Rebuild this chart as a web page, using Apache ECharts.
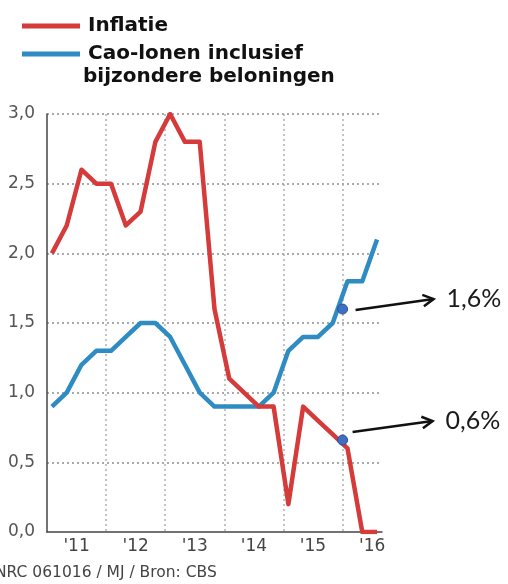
<!DOCTYPE html>
<html>
<head>
<meta charset="utf-8">
<script src="https://cdn.jsdelivr.net/npm/echarts@6/dist/echarts.min.js"></script>
<style>
html,body{margin:0;padding:0;background:#fff;}
#chart{width:508px;height:584px;}
</style>
</head>
<body>
<div id="chart"></div>
<script>
// ---- data ----
const periods = ['2011-02','2011-05','2011-08','2011-11',
                 '2012-02','2012-05','2012-08','2012-11',
                 '2013-02','2013-05','2013-08','2013-11',
                 '2014-02','2014-05','2014-08','2014-11',
                 '2015-02','2015-05','2015-08','2015-11',
                 '2016-02','2016-05','2016-08'];
const inflatie = [2.0, 2.2, 2.6, 2.5, 2.5, 2.2, 2.3, 2.8, 3.0, 2.8, 2.8, 1.6,
                  1.1, 1.0, 0.9, 0.9, 0.2, 0.9, 0.8, 0.7, 0.6, 0.0, 0.0];
const caoLonen = [0.9, 1.0, 1.2, 1.3, 1.3, 1.4, 1.5, 1.5, 1.4, 1.2, 1.0, 0.9,
                  0.9, 0.9, 0.9, 1.0, 1.3, 1.4, 1.4, 1.5, 1.8, 1.8, 2.1];
const yearLabels = ["'11", "'12", "'13", "'14", "'15", "'16"];
const annotationPeriod = ['2016-01', '2016-01'];
const annotationValue = [1.6, 0.66];
const annotationText = ['1,6%', '0,6%'];
const seriesNames = ['Inflatie', 'Cao-lonen inclusief'];
const legendSecondLine = 'bijzondere beloningen';
const sourceText = 'NRC 061016 / MJ / Bron: CBS';

// ---- helpers ----
function toYear(p) {
  const [y, m] = p.split('-').map(Number);
  return y + (m - 1) / 12;
}
const xs = periods.map(toYear);
const redData = xs.map((x, i) => [x, inflatie[i]]);
const blueData = xs.map((x, i) => [x, caoLonen[i]]);
const dotData = annotationPeriod.map((p, i) => [toYear(p), annotationValue[i]]);

const chart = echarts.init(document.getElementById('chart'), null, {renderer: 'canvas'});

const RED = '#d43b3a';
const BLUE = '#2e8cc3';

chart.setOption({
  animation: false,
  backgroundColor: '#ffffff',
  grid: {left: 47, right: 126, top: 114, bottom: 52, containLabel: false, outerBoundsMode: 'none'},
  legend: {
    orient: 'vertical',
    left: 17,
    top: 11,
    itemWidth: 58,
    itemHeight: 5,
    itemGap: 8,
    icon: 'rect',
    data: [seriesNames[0], seriesNames[1]],
    textStyle: {
      fontFamily: 'DejaVu Sans', fontWeight: 'bold', fontSize: 20,
      color: '#111', lineHeight: 20, padding: [0, 0, 0, 3]
    },
    selectedMode: false
  },
  xAxis: [{
    type: 'value',
    min: 2011, max: 2016.667, interval: 1,
    position: 'bottom',
    axisLine: {show: true, onZero: false, lineStyle: {color: '#444', width: 1.5}},
    axisTick: {show: false},
    axisLabel: {show: false},
    splitLine: {show: true, showMinLine: false, showMaxLine: false,
      lineStyle: {color: '#b0b0b0', type: [2, 3], width: 1.5}}
  }, {
    type: 'value',
    min: 2011, max: 2016.667, interval: 0.5,
    position: 'bottom',
    axisLine: {show: false},
    axisTick: {show: false},
    splitLine: {show: false},
    axisLabel: {
      show: true, margin: 6, fontFamily: 'DejaVu Sans', fontSize: 17, color: '#444',
      showMinLabel: true, showMaxLabel: true, hideOverlap: false,
      formatter: function (v) {
        const f = v - Math.floor(v);
        if (Math.abs(f - 0.5) < 0.01) return yearLabels[Math.floor(v) - 2011] || '';
        return '';
      }
    }
  }],
  yAxis: {
    type: 'value',
    min: 0, max: 3, interval: 0.5,
    axisLine: {show: true, lineStyle: {color: '#444', width: 1.5}},
    axisTick: {show: false},
    axisLabel: {
      margin: 12, fontFamily: 'DejaVu Sans', fontSize: 17, color: '#555',
      formatter: v => v.toFixed(1).replace('.', ',')
    },
    splitLine: {show: true, showMinLine: false,
      lineStyle: {color: '#8f8f8f', type: [2, 3], width: 1.5}}
  },
  series: [{
    name: seriesNames[1],
    type: 'line',
    xAxisIndex: 0,
    data: blueData,
    symbol: 'none',
    lineStyle: {color: BLUE, width: 4.5, join: 'round'},
    itemStyle: {color: BLUE},
    z: 2
  }, {
    name: seriesNames[0],
    type: 'line',
    xAxisIndex: 0,
    data: redData,
    symbol: 'none',
    lineStyle: {color: RED, width: 4.5, join: 'round'},
    itemStyle: {color: RED},
    z: 3
  }, {
    name: 'markers',
    type: 'scatter',
    xAxisIndex: 0,
    data: dotData,
    symbolSize: 10,
    itemStyle: {color: '#3f6fc3', borderColor: '#2b4f95', borderWidth: 1, opacity: 1},
    z: 5,
    silent: true
  }]
});

// ---- annotations (arrows + texts) anchored to the data points ----
const arrowStart = [[13, 1], [10, -8]];
const arrowEnd = [[91, -10], [90, -19]];
const graphics = [];
dotData.forEach((d, i) => {
  const p = chart.convertToPixel({xAxisIndex: 0, yAxisIndex: 0}, d);
  const x1 = p[0] + arrowStart[i][0], y1 = p[1] + arrowStart[i][1];
  const x2 = p[0] + arrowEnd[i][0], y2 = p[1] + arrowEnd[i][1];
  const ang = Math.atan2(y2 - y1, x2 - x1);
  const L = 12, a = 0.5;
  graphics.push({
    type: 'line', silent: true, z: 10,
    shape: {x1: x1, y1: y1, x2: x2, y2: y2},
    style: {stroke: '#111', lineWidth: 2.5}
  });
  graphics.push({
    type: 'polyline', silent: true, z: 10,
    shape: {points: [
      [x2 - L * Math.cos(ang - a), y2 - L * Math.sin(ang - a)],
      [x2, y2],
      [x2 - L * Math.cos(ang + a), y2 - L * Math.sin(ang + a)]
    ]},
    style: {stroke: '#111', lineWidth: 2.5, fill: null, lineJoin: 'miter'}
  });
  graphics.push({
    type: 'text', silent: true, z: 10,
    x: x2 + 13, y: y2,
    style: {text: annotationText[i], font: '25px Lato', fill: '#1a1a1a',
      verticalAlign: 'middle', align: 'left'}
  });
});
graphics.push({
  type: 'text', silent: true,
  x: 83, y: 77,
  style: {text: legendSecondLine, font: 'bold 20px "DejaVu Sans"', fill: '#111',
    verticalAlign: 'middle', align: 'left'}
});
graphics.push({
  type: 'text', silent: true,
  x: -5, y: 573,
  style: {text: sourceText, font: '15.5px "DejaVu Sans"', fill: '#444',
    verticalAlign: 'middle', align: 'left'}
});
chart.setOption({graphic: graphics});
</script>
</body>
</html>
